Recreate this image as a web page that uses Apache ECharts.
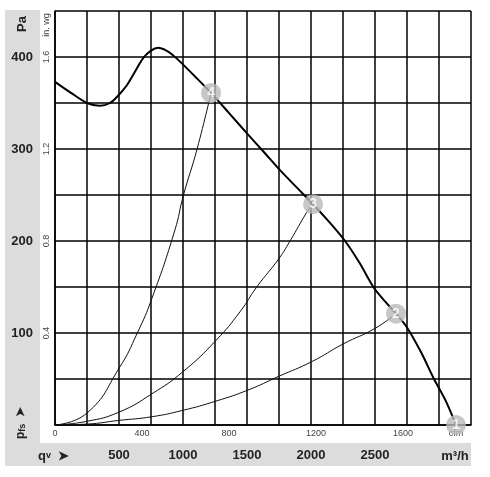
<!DOCTYPE html>
<html>
<head>
<meta charset="utf-8">
<script src="https://cdn.jsdelivr.net/npm/echarts@6/dist/echarts.min.js"></script>
<style>
  html, body { margin: 0; padding: 0; background: #fff; }
  #chart { width: 490px; height: 477px; }
</style>
</head>
<body>
<div id="chart"></div>
<script>
// fan curve, flow in m3/h, pressure in Pa
var fanFlow = [0, 125, 250, 350, 430, 500, 560, 612, 690, 750, 807, 870, 922, 977, 1100, 1219, 1360, 1500, 1630, 1758, 1890, 2016, 2140, 2266, 2380, 2487, 2580, 2664, 2750, 2860, 2961, 3050, 3133];
var fanPa = [373, 361, 350, 347, 350, 359, 369, 381, 399, 407, 410, 407, 402, 395, 378, 361, 339, 317, 297, 277, 258, 240, 221, 200, 176, 150, 134, 121, 106, 79, 50, 27, 0];

// system curves to the operating points 4, 3 and 2
var sys4Flow = [0, 250, 502, 643, 758, 937, 1002, 1110, 1219];
var sys4Pa = [0, 13, 62, 100, 138, 212, 249, 300, 361];
var sys3Flow = [0, 250, 500, 758, 1000, 1258, 1445, 1576, 1750, 1836, 1966, 2016];
var sys3Pa = [0, 4, 14, 34, 58, 92, 123, 150, 181, 200, 231, 241];
var sys2Flow = [0, 250, 500, 758, 1000, 1258, 1508, 1750, 2008, 2250, 2500, 2664];
var sys2Pa = [0, 1, 5, 9, 16, 26, 38, 53, 69, 88, 105, 121];

// numbered operating points
var opFlow = [3133, 2664, 2016, 1219];
var opPa = [0, 121, 240, 361];
var opNames = ['1', '2', '3', '4'];

// tick labels
var paTicks = [100, 200, 300, 400];
var inwgLabels = ['0.4', '0.8', '1.2', '1.6'];
var m3hTicks = [500, 1000, 1500, 2000, 2500];
var cfmTicks = [0, 400, 800, 1200, 1600];

var M3H_PER_CFM = 1.699;
var FONT = 'Liberation Sans, Arial, sans-serif';

function pairs(xs, ys) {
  var out = [];
  for (var i = 0; i < xs.length; i++) out.push([xs[i], ys[i]]);
  return out;
}

var myChart = echarts.init(document.getElementById('chart'));

var opData = [];
for (var i = 0; i < opFlow.length; i++) {
  opData.push({ value: [opFlow[i], opPa[i]], name: opNames[i] });
}

function sysLine(xs, ys) {
  return {
    type: 'line',
    data: pairs(xs, ys),
    smooth: 0.5,
    symbol: 'none',
    lineStyle: { color: '#111', width: 1 },
    z: 3
  };
}

myChart.setOption({
  animation: false,
  backgroundColor: '#fff',
  grid: { left: 55, top: 11, width: 416, height: 414, containLabel: false },
  graphic: [
    { type: 'rect', z: -10, shape: { x: 5, y: 10, width: 35, height: 456 }, style: { fill: '#dcdcdc' } },
    { type: 'rect', z: -10, shape: { x: 5, y: 443, width: 466, height: 23 }, style: { fill: '#dcdcdc' } },
    { type: 'text', x: 22, y: 24, rotation: Math.PI / 2,
      style: { text: 'Pa', font: 'bold 13px ' + FONT, fill: '#222', align: 'center', verticalAlign: 'middle' } },
    { type: 'text', x: 47, y: 25, rotation: Math.PI / 2,
      style: { text: 'in. wg', font: '9px ' + FONT, fill: '#444', align: 'center', verticalAlign: 'middle' } },
    { type: 'text', x: 21, y: 423, rotation: Math.PI / 2,
      style: { text: 'p{s|fs}  ➤', font: 'bold 12px ' + FONT, fill: '#222', align: 'center', verticalAlign: 'middle',
        rich: { s: { font: 'bold 9px ' + FONT, fill: '#222', verticalAlign: 'bottom' } } } },
    { type: 'text', x: 38, y: 456,
      style: { text: 'q{s|v}  ➤', font: 'bold 13px ' + FONT, fill: '#222', align: 'left', verticalAlign: 'middle',
        rich: { s: { font: 'bold 9px ' + FONT, fill: '#222' } } } },
    { type: 'text', x: 456, y: 434,
      style: { text: 'cfm', font: '9px ' + FONT, fill: '#444', align: 'center', verticalAlign: 'middle' } },
    { type: 'text', x: 455, y: 456,
      style: { text: 'm³/h', font: 'bold 13px ' + FONT, fill: '#222', align: 'center', verticalAlign: 'middle' } }
  ],
  xAxis: [
    {
      type: 'value', min: 0, max: 3250, interval: 250, position: 'bottom',
      axisLine: { show: true, onZero: false, lineStyle: { color: '#000', width: 1.5 } },
      axisTick: { show: false },
      splitLine: { show: true, lineStyle: { color: '#000', width: 1.5 } },
      axisLabel: {
        margin: 24, color: '#222', fontFamily: FONT, fontSize: 13, fontWeight: 'bold',
        formatter: function (v) { return m3hTicks.indexOf(v) >= 0 ? String(v) : ''; }
      }
    },
    {
      type: 'value', min: 0, max: 3250 / M3H_PER_CFM, interval: 400, position: 'bottom', offset: 0,
      axisLine: { show: false, onZero: false },
      axisTick: { show: false },
      splitLine: { show: false },
      axisLabel: {
        margin: 4, color: '#444', fontFamily: FONT, fontSize: 9, showMaxLabel: false,
        formatter: function (v) { return cfmTicks.indexOf(v) >= 0 ? String(v) : ''; }
      }
    }
  ],
  yAxis: [
    {
      type: 'value', min: 0, max: 450, interval: 50, position: 'left',
      axisLine: { show: true, onZero: false, lineStyle: { color: '#000', width: 1.5 } },
      axisTick: { show: false },
      splitLine: { show: true, lineStyle: { color: '#000', width: 1.5 } },
      axisLabel: {
        margin: 22, color: '#222', fontFamily: FONT, fontSize: 13, fontWeight: 'bold',
        formatter: function (v) { return paTicks.indexOf(v) >= 0 ? String(v) : ''; }
      }
    },
    {
      type: 'value', min: 0, max: 450, interval: 50, position: 'left', offset: 0,
      axisLine: { show: false, onZero: false },
      axisTick: { show: false },
      splitLine: { show: false },
      axisLabel: {
        margin: 4, rotate: 90, color: '#444', fontFamily: FONT, fontSize: 9,
        formatter: function (v) {
          var k = paTicks.indexOf(v);
          return k >= 0 ? inwgLabels[k] : '';
        }
      }
    }
  ],
  series: [
    {
      type: 'line',
      data: pairs(fanFlow, fanPa),
      smooth: 0.3,
      symbol: 'none',
      lineStyle: { color: '#000', width: 2 },
      z: 4
    },
    sysLine(sys4Flow, sys4Pa),
    sysLine(sys3Flow, sys3Pa),
    sysLine(sys2Flow, sys2Pa),
    {
      type: 'scatter',
      data: opData,
      clip: false,
      symbol: 'circle',
      symbolSize: 20,
      itemStyle: { color: '#b9b9b9' },
      label: {
        show: true, position: 'inside', formatter: '{b}',
        color: '#fff', fontFamily: FONT, fontSize: 14, fontWeight: 'bold'
      },
      z: 6
    }
  ]
});
</script>
</body>
</html>
